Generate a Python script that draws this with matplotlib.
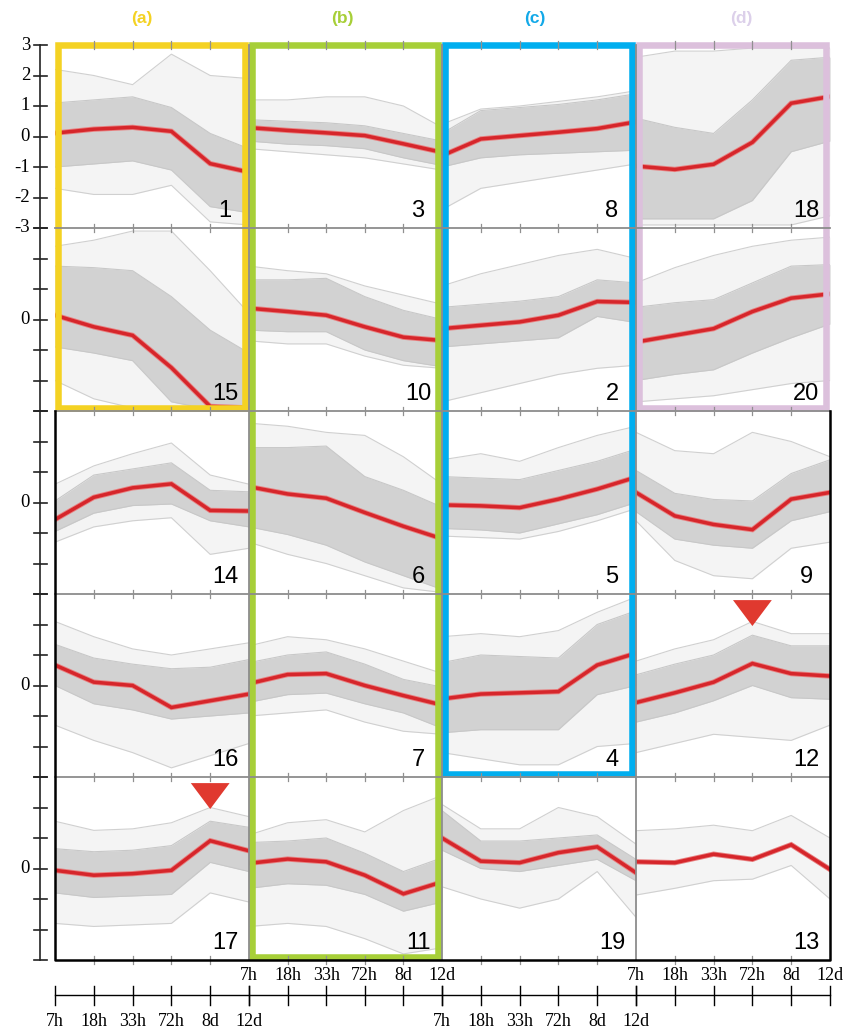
import matplotlib
matplotlib.use('Agg')
import matplotlib.pyplot as plt
from matplotlib.patches import Rectangle, Polygon

# ---------------- data ----------------
time_labels = ['7h', '18h', '33h', '72h', '8d', '12d']
grid = [[1, 3, 8, 18],
        [15, 10, 2, 20],
        [14, 6, 5, 9],
        [16, 7, 4, 12],
        [17, 11, 19, 13]]

mean_profile = {
    1: [0.11, 0.24, 0.30, 0.17, -0.89, -1.17],
    3: [0.29, 0.20, 0.12, 0.03, -0.24, -0.52],
    8: [-0.63, -0.08, 0.03, 0.14, 0.26, 0.48],
    18: [-0.97, -1.08, -0.91, -0.19, 1.09, 1.31],
    15: [0.14, -0.24, -0.52, -1.58, -2.85, -2.90],
    10: [0.37, 0.26, 0.14, -0.24, -0.58, -0.69],
    2: [-0.30, -0.19, -0.08, 0.14, 0.59, 0.56],
    20: [-0.74, -0.52, -0.30, 0.26, 0.70, 0.84],
    14: [-0.56, 0.17, 0.48, 0.61, -0.26, -0.28],
    6: [0.52, 0.28, 0.14, -0.33, -0.78, -1.19],
    5: [-0.08, -0.11, -0.17, 0.11, 0.44, 0.83],
    9: [0.33, -0.44, -0.72, -0.89, 0.11, 0.33],
    16: [0.67, 0.11, 0.00, -0.72, -0.50, -0.28],
    7: [0.06, 0.36, 0.39, 0.00, -0.33, -0.64],
    4: [-0.44, -0.28, -0.24, -0.20, 0.67, 1.06],
    12: [-0.56, -0.24, 0.11, 0.72, 0.39, 0.31],
    17: [-0.06, -0.22, -0.17, -0.06, 0.91, 0.58],
    11: [0.17, 0.31, 0.22, -0.22, -0.83, -0.44],
    19: [1.00, 0.24, 0.19, 0.52, 0.71, -0.14],
    13: [0.22, 0.19, 0.47, 0.30, 0.78, -0.03],
}
core_hi = {
    1: [1.10, 1.20, 1.30, 0.95, 0.10, -0.40],
    3: [0.55, 0.50, 0.45, 0.35, 0.10, -0.15],
    8: [0.10, 0.85, 0.95, 1.05, 1.20, 1.40],
    18: [0.60, 0.30, 0.10, 1.20, 2.50, 2.60],
    15: [1.75, 1.70, 1.60, 0.75, -0.35, -1.10],
    10: [1.30, 1.30, 1.35, 0.75, 0.30, 0.00],
    2: [0.40, 0.50, 0.60, 0.75, 1.30, 1.20],
    20: [0.40, 0.55, 0.65, 1.20, 1.75, 1.80],
    14: [0.05, 0.90, 1.10, 1.30, 0.40, 0.35],
    6: [1.80, 1.80, 1.85, 0.85, 0.40, -0.15],
    5: [0.85, 0.80, 0.75, 1.05, 1.35, 1.75],
    9: [1.05, 0.30, 0.10, 0.05, 0.95, 1.40],
    16: [1.35, 0.90, 0.70, 0.55, 0.60, 0.85],
    7: [0.75, 1.00, 1.10, 0.70, 0.20, -0.05],
    4: [0.75, 1.00, 0.95, 0.90, 2.00, 2.45],
    12: [0.35, 0.70, 1.00, 1.65, 1.30, 1.30],
    17: [0.65, 0.55, 0.60, 0.75, 1.55, 1.35],
    11: [0.85, 0.90, 1.00, 0.50, -0.10, 0.35],
    19: [1.90, 0.90, 0.90, 1.00, 1.10, 0.30],
    13: [0.22, 0.19, 0.47, 0.30, 0.78, -0.03],
}
core_lo = {
    1: [-1.00, -0.90, -0.80, -1.10, -2.30, -2.50],
    3: [-0.15, -0.25, -0.30, -0.40, -0.70, -0.95],
    8: [-1.00, -0.70, -0.60, -0.55, -0.50, -0.45],
    18: [-2.70, -2.70, -2.70, -2.10, -0.50, -0.15],
    15: [-0.90, -1.10, -1.35, -2.70, -2.95, -2.95],
    10: [-0.35, -0.40, -0.40, -1.00, -1.35, -1.55],
    2: [-0.90, -0.80, -0.70, -0.60, 0.10, -0.10],
    20: [-2.00, -1.80, -1.65, -1.10, -0.60, -0.15],
    14: [-0.95, -0.35, -0.10, -0.05, -0.60, -0.80],
    6: [-0.80, -1.05, -1.40, -1.95, -2.40, -2.85],
    5: [-0.85, -0.90, -1.00, -0.70, -0.40, 0.00],
    9: [-0.30, -1.20, -1.40, -1.50, -0.60, -0.30],
    16: [0.00, -0.60, -0.80, -1.10, -1.00, -0.90],
    7: [-0.55, -0.30, -0.25, -0.60, -0.90, -1.40],
    4: [-1.55, -1.45, -1.45, -1.45, -0.30, 0.00],
    12: [-1.20, -0.90, -0.50, 0.00, -0.40, -0.45],
    17: [-0.80, -0.95, -0.90, -0.85, 0.20, -0.10],
    11: [-0.65, -0.50, -0.55, -0.85, -1.40, -1.10],
    19: [0.60, 0.00, -0.10, 0.10, 0.30, -0.40],
    13: [0.22, 0.19, 0.47, 0.30, 0.78, -0.03],
}
outer_hi = {
    1: [2.20, 2.00, 1.70, 2.70, 2.00, 1.90],
    3: [1.20, 1.20, 1.30, 1.30, 1.00, 0.30],
    8: [0.40, 0.90, 1.00, 1.15, 1.30, 1.50],
    18: [2.60, 2.80, 2.80, 2.90, 2.90, 2.90],
    15: [2.40, 2.60, 2.90, 2.90, 1.60, 0.20],
    10: [1.75, 1.60, 1.50, 1.10, 0.80, 0.50],
    2: [1.10, 1.50, 1.80, 2.10, 2.30, 2.00],
    20: [1.20, 1.70, 2.10, 2.40, 2.60, 2.70],
    14: [0.60, 1.20, 1.60, 1.95, 0.90, 0.60],
    6: [2.60, 2.50, 2.30, 2.20, 1.50, 0.60],
    5: [1.40, 1.60, 1.35, 1.80, 2.20, 2.50],
    9: [2.30, 1.70, 1.60, 2.30, 2.00, 1.50],
    16: [2.10, 1.60, 1.20, 1.00, 1.20, 1.40],
    7: [1.30, 1.60, 1.50, 1.20, 0.80, 0.40],
    4: [1.60, 1.70, 1.60, 1.80, 2.40, 2.90],
    12: [0.80, 1.20, 1.50, 2.10, 1.70, 1.70],
    17: [1.55, 1.25, 1.30, 1.50, 2.00, 1.70],
    11: [1.10, 1.50, 1.60, 1.20, 1.90, 2.40],
    19: [2.10, 1.30, 1.30, 2.00, 1.70, 0.80],
    13: [1.24, 1.30, 1.42, 1.24, 1.74, 1.00],
}
outer_lo = {
    1: [-1.70, -1.90, -1.90, -1.60, -2.80, -2.90],
    3: [-0.40, -0.50, -0.60, -0.70, -0.90, -1.10],
    8: [-2.40, -1.70, -1.50, -1.30, -1.10, -0.90],
    18: [-2.90, -2.90, -2.90, -2.90, -2.90, -2.60],
    15: [-2.00, -2.60, -2.90, -2.95, -2.95, -2.95],
    10: [-0.70, -0.80, -0.80, -1.20, -1.50, -1.60],
    2: [-2.70, -2.40, -2.10, -1.80, -1.60, -1.50],
    20: [-2.70, -2.60, -2.50, -2.30, -2.10, -2.00],
    14: [-1.30, -0.80, -0.60, -0.50, -1.70, -1.50],
    6: [-1.30, -1.70, -2.00, -2.40, -2.80, -2.95],
    5: [-1.10, -1.15, -1.20, -0.95, -0.60, -0.20],
    9: [-0.60, -1.90, -2.40, -2.50, -1.50, -1.30],
    16: [-1.30, -1.80, -2.20, -2.70, -2.30, -1.90],
    7: [-1.00, -0.90, -0.80, -1.20, -1.50, -1.60],
    4: [-2.20, -2.40, -2.60, -2.60, -2.00, -1.90],
    12: [-2.20, -1.90, -1.60, -1.70, -1.80, -1.30],
    17: [-1.80, -1.90, -1.85, -1.80, -0.80, -1.10],
    11: [-1.90, -1.80, -1.90, -2.30, -2.80, -2.60],
    19: [-0.60, -1.00, -1.30, -1.00, -0.10, -1.60],
    13: [-0.87, -0.65, -0.40, -0.35, 0.10, -1.00],
}
top_ytick_values = [3, 2, 1, 0, -1, -2, -3]
group_labels = ['(a)', '(b)', '(c)', '(d)']
group_colors = ['#f4d223', '#a7cf38', '#00aeef', '#dcc0dc']
group_label_colors = ['#f4d223', '#a7cf38', '#13a9e8', '#dcd0ea']
# group -> (column, number of rows framed)
group_span = [(0, 2), (1, 5), (2, 4), (3, 2)]
marked_points = {17: 4, 12: 3}   # cluster -> time index flagged by a triangle

# ---------------- layout ----------------
W, H = 855, 1034
fig = plt.figure(figsize=(W / 100, H / 100), dpi=100)
col_x = [55, 249, 442, 636, 830]
row_y = [45, 228, 411, 594, 777, 960]

RED = '#d6262b'
CORE = '#d2d2d2'
OUTER = '#f4f4f4'
x = list(range(len(time_labels)))

for r, row in enumerate(grid):
    for c, cl in enumerate(row):
        ax = fig.add_axes([col_x[c] / W, 1 - row_y[r + 1] / H,
                           (col_x[c + 1] - col_x[c]) / W,
                           (row_y[r + 1] - row_y[r]) / H])
        ax.set_xlim(0, 5)
        ax.set_ylim(-3, 3)
        ax.axis('off')
        ax.fill_between(x, outer_lo[cl], outer_hi[cl], color=OUTER, lw=0)
        ax.plot(x, outer_lo[cl], color='#d0d0d0', lw=0.8)
        ax.plot(x, outer_hi[cl], color='#d0d0d0', lw=0.8)
        ax.fill_between(x, core_lo[cl], core_hi[cl], color=CORE, lw=0)
        ax.plot(x, core_lo[cl], color='#c8c8c8', lw=0.8)
        ax.plot(x, core_hi[cl], color='#c8c8c8', lw=0.8)
        ax.plot(x, mean_profile[cl], color='#e88080', lw=3.8, solid_joinstyle='miter')
        ax.plot(x, mean_profile[cl], color=RED, lw=2.5, solid_joinstyle='miter')
        ax.text(1 - 24 / (col_x[c + 1] - col_x[c]), 11 / (row_y[r + 1] - row_y[r]),
                str(cl), transform=ax.transAxes, ha='center', va='baseline',
                fontsize=17, family='Liberation Sans', color='black')
        if cl in marked_points:
            i = marked_points[cl]
            ax.add_patch(Polygon([(i - 0.5, 2.8), (i + 0.5, 2.8), (i, 1.95)],
                                 closed=True, color='#e0392f', lw=0,
                                 zorder=10, clip_on=False))

# overlay for structure
ov = fig.add_axes([0, 0, 1, 1], zorder=5)
ov.set_xlim(0, W)
ov.set_ylim(H, 0)
ov.axis('off')
ov.patch.set_alpha(0)

sep = '#8c8c8c'
for yy in row_y[1:-1]:
    ov.plot([col_x[0], col_x[-1]], [yy, yy], color=sep, lw=1.3)
for xx in col_x[1:-1]:
    ov.plot([xx, xx], [row_y[0], row_y[-1]], color=sep, lw=1.3)
# small ticks along row borders
for yy in row_y:
    for c in range(4):
        for i in range(1, 5):
            xx = col_x[c] + i / 5 * (col_x[c + 1] - col_x[c])
            ov.plot([xx, xx], [yy - 4, yy + 4], color='#909090', lw=0.9)

# black frame around the lower rows
ov.plot([col_x[0], col_x[0], col_x[-1], col_x[-1]],
        [row_y[2], row_y[-1], row_y[-1], row_y[2]], color='black', lw=1.8)

# coloured group frames
for g, (c, nrows) in enumerate(group_span):
    x0 = col_x[c] + 3
    x1 = col_x[c + 1] - 4
    y0 = row_y[0]
    y1 = row_y[nrows] - 3
    ov.add_patch(Rectangle((x0, y0), x1 - x0, y1 - y0, fill=False,
                           edgecolor=group_colors[g], lw=4.7, joinstyle='miter'))
    ov.text([142, 342, 535, 741][g], 18, group_labels[g], ha='center', va='center',
            fontsize=12.5, fontweight='bold', family='Liberation Sans',
            color=group_label_colors[g])

# y axis
ov.plot([40, 40], [row_y[0], row_y[-1]], color='#222222', lw=1.2)
for r in range(5):
    for v in top_ytick_values:
        yy = row_y[r] + (3 - v) / 6 * (row_y[r + 1] - row_y[r])
        ov.plot([34, 47], [yy, yy], color='#222222', lw=1.2)
        if r == 0 or v == 0:
            ov.text(30, yy, str(v), ha='right', va='center', fontsize=13.5,
                    family='Liberation Serif', color='black')

# bottom time axis
AX_Y = 995
ov.plot([col_x[0], col_x[-1]], [AX_Y, AX_Y], color='black', lw=1.0)
for c in range(4):
    for i, lab in enumerate(time_labels):
        xx = col_x[c] + i / 5 * (col_x[c + 1] - col_x[c])
        ov.plot([xx, xx], [AX_Y - 9, AX_Y + 10], color='black', lw=1.0)
        if c % 2 == 0:
            ov.text(xx, 1021, lab, ha='center', va='center', fontsize=13,
                    family='Liberation Serif')
        else:
            ov.text(xx, 975, lab, ha='center', va='center', fontsize=13,
                    family='Liberation Serif')

fig.savefig('out.png', dpi=100)
